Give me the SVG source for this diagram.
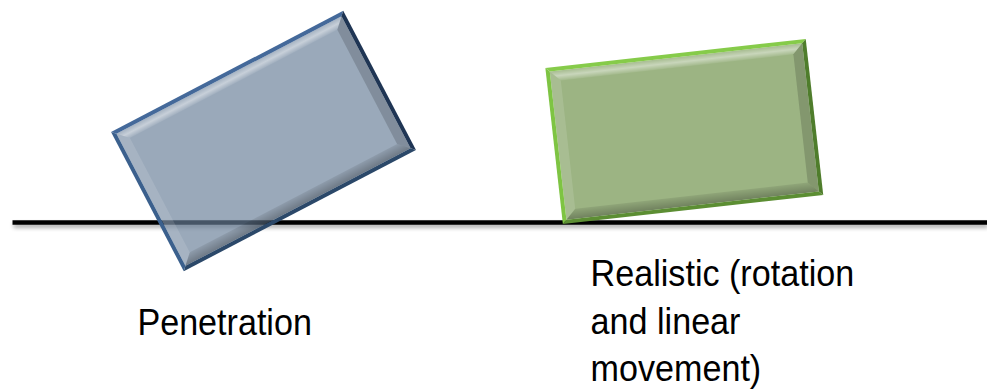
<svg xmlns="http://www.w3.org/2000/svg" width="987" height="391" viewBox="0 0 987 391">
  <style>
    .label { font-family: "Liberation Sans", Arial, sans-serif; font-size: 37.5px; fill: #000; }
    .hi { fill: url(#bevelTop); }
    .lo { fill: url(#bevelBottom); }
    .sideL { fill: #ffffff; fill-opacity: 0.12; }
    .sideR { fill: #000000; fill-opacity: 0.16; }
  </style>
  <defs>
    <filter id="lineShadow" filterUnits="userSpaceOnUse" x="0" y="205" width="987" height="40">
      <feGaussianBlur in="SourceAlpha" stdDeviation="2"/>
      <feOffset dx="1" dy="3" result="b"/>
      <feComponentTransfer><feFuncA type="linear" slope="0.35"/></feComponentTransfer>
      <feMerge><feMergeNode/><feMergeNode in="SourceGraphic"/></feMerge>
    </filter>
    <linearGradient id="bevelTop" x1="0" y1="0" x2="0" y2="1">
      <stop offset="0" stop-color="#fff" stop-opacity="0.12"/>
      <stop offset="0.5" stop-color="#fff" stop-opacity="0.45"/>
      <stop offset="1" stop-color="#fff" stop-opacity="0.08"/>
    </linearGradient>
    <linearGradient id="bevelBottom" x1="0" y1="1" x2="0" y2="0">
      <stop offset="0" stop-color="#000" stop-opacity="0.28"/>
      <stop offset="1" stop-color="#000" stop-opacity="0.08"/>
    </linearGradient>
    <g id="bevels">
      <polygon class="hi" points="-127,-74.5 127,-74.5 117,-64.5 -117,-64.5"/>
      <polygon class="sideR" points="127,-74.5 127,74.5 117,64.5 117,-64.5"/>
      <polygon class="lo" points="127,74.5 -127,74.5 -117,64.5 117,64.5"/>
      <polygon class="sideL" points="-127,74.5 -127,-74.5 -117,-64.5 -117,64.5"/>
    </g>
  </defs>

  <g id="connectors">
    <rect id="ground" x="12.5" y="220.25" width="974.5" height="4.5" fill="#000" filter="url(#lineShadow)"/>
  </g>

  <g id="box-penetration" transform="translate(263.5,141) rotate(-27.6)">
    <rect x="-127" y="-74.5" width="254" height="149" fill="#687F98" fill-opacity="0.67"/>
    <use href="#bevels"/>
    <polygon fill="#44699A" points="-131,-78.5 131,-78.5 127,-74.5 -127,-74.5"/>
    <polygon fill="#1F3554" points="131,-78.5 131,78.5 127,74.5 127,-74.5"/>
    <polygon fill="#2B4869" points="131,78.5 -131,78.5 -127,74.5 127,74.5"/>
    <polygon fill="#3B608D" points="-131,78.5 -131,-78.5 -127,-74.5 -127,74.5"/>
  </g>

  <g id="box-realistic" transform="translate(684.3,131.5) rotate(-6.4)">
    <rect x="-127" y="-74.5" width="254" height="149" fill="#9CB483"/>
    <use href="#bevels"/>
    <polygon fill="#86CB4A" points="-131,-78.5 131,-78.5 127,-74.5 -127,-74.5"/>
    <polygon fill="#4F7D2C" points="131,-78.5 131,78.5 127,74.5 127,-74.5"/>
    <polygon fill="#5C8E33" points="131,78.5 -131,78.5 -127,74.5 127,74.5"/>
    <polygon fill="#7EC443" points="-131,78.5 -131,-78.5 -127,-74.5 -127,74.5"/>
  </g>

  <g id="label-penetration" transform="translate(137.4,335) scale(0.91,1)">
    <text class="label" x="0" y="0">Penetration</text>
  </g>

  <g id="label-realistic" transform="translate(590.6,0) scale(0.91,1)">
    <text class="label" x="0" y="286">Realistic (rotation</text>
    <text class="label" x="0" y="334">and linear</text>
    <text class="label" x="0" y="381">movement)</text>
  </g>
</svg>
